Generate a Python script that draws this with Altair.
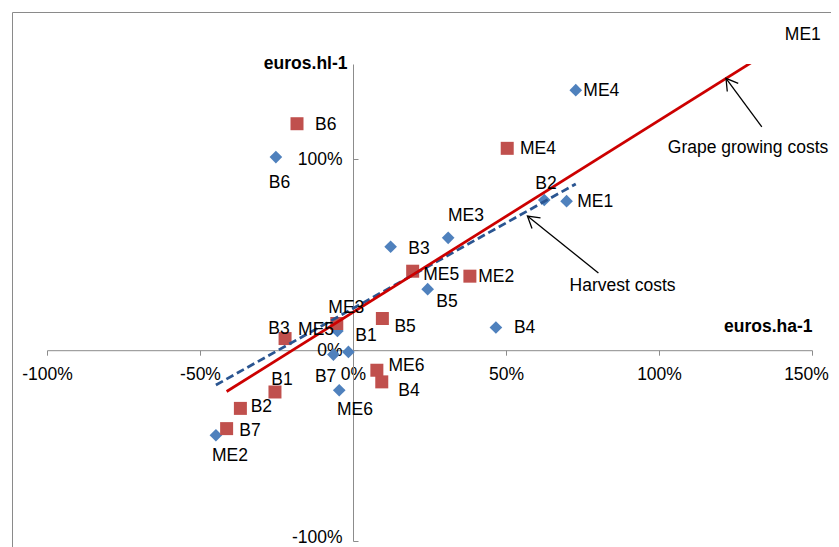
import math
import altair as alt
import pandas as pd

# ---------------- data ----------------
names = ["B1", "B2", "B3", "B4", "B5", "B6", "B7", "ME1", "ME2", "ME3", "ME4", "ME5", "ME6"]

# Harvest costs (blue diamonds): x = euros.ha-1 change, y = euros.hl-1 change
harvest_x = [-0.015, 0.625, 0.123, 0.467, 0.244, -0.252, -0.064, 0.698, -0.448, 0.311, 0.728, -0.051, -0.045]
harvest_y = [-0.009, 0.787, 0.542, 0.119, 0.320, 1.012, -0.023, 0.781, -0.446, 0.589, 1.363, 0.101, -0.210]

# Grape growing costs (red squares); ME1 lies above the plotted range (only its label shows)
grape_x = [-0.255, -0.368, -0.222, 0.094, 0.096, -0.183, -0.413, 1.372, 0.382, -0.053, 0.504, 0.195, 0.078]
grape_y = [-0.219, -0.305, 0.061, -0.166, 0.166, 1.187, -0.411, 1.608, 0.388, 0.140, 1.058, 0.414, -0.105]

x_ticks = [-1.0, -0.5, 0.0, 0.5, 1.0, 1.5]
y_ticks = [-1.0, 0.0, 1.0]

note_text = ["Grape growing costs", "Harvest costs"]
note_x = [1.291, 0.881]
note_y = [1.064, 0.343]
arrow_tail_x = [1.336, 0.802]
arrow_tail_y = [1.171, 0.405]
arrow_tip_x = [1.219, 0.570]
arrow_tip_y = [1.425, 0.703]

# ---------------- layout ----------------
W, H = 765, 477
X_DOMAIN = [-1.0, 1.5]
Y_DOMAIN = [-1.0, 1.5]
kx = W / (X_DOMAIN[1] - X_DOMAIN[0])
ky = H / (Y_DOMAIN[1] - Y_DOMAIN[0])
x0_px = (0 - X_DOMAIN[0]) * kx
y0_px = (Y_DOMAIN[1] - 0) * ky

FONT = "Liberation Sans"
FS = 17.5
BLUE = "#4F81BD"
RED = "#C0504D"
AXIS_GREY = "#8C8C8C"

# label placement: (align, dx px, dy px) relative to the marker centre
label_place = {
    ("harvest", "B6"): ("center", 3.6, 25),
    ("harvest", "ME4"): ("left", 7.6, 0),
    ("harvest", "B2"): ("center", 1.7, -17.5),
    ("harvest", "ME1"): ("left", 10.6, 0),
    ("harvest", "ME3"): ("center", 17.7, -22.7),
    ("harvest", "B3"): ("left", 17.6, 1),
    ("harvest", "B5"): ("center", 19.3, 11.5),
    ("harvest", "B4"): ("left", 18, 0),
    ("harvest", "B1"): ("center", 17.5, -16.5),
    ("harvest", "B7"): ("center", -7.8, 21),
    ("harvest", "ME6"): ("center", 15.7, 19),
    ("harvest", "ME5"): ("right", -3.3, -1.7),
    ("harvest", "ME2"): ("center", 14, 20),
    ("grape", "B6"): ("left", 18, 0),
    ("grape", "ME4"): ("left", 12.7, 0),
    ("grape", "ME5"): ("left", 10.6, 2.5),
    ("grape", "ME2"): ("left", 8.3, 0),
    ("grape", "B5"): ("left", 12, 7.7),
    ("grape", "ME3"): ("center", 9.5, -16),
    ("grape", "B3"): ("center", -6, -11),
    ("grape", "ME6"): ("left", 11.6, -5),
    ("grape", "B4"): ("left", 16.6, 8),
    ("grape", "B1"): ("center", 7, -13.4),
    ("grape", "B2"): ("left", 10.3, -2),
    ("grape", "B7"): ("left", 12.6, 1),
    ("grape", "ME1"): ("left", 12, -9.3),
}

rows = []
for s, xs_, ys_ in (("harvest", harvest_x, harvest_y), ("grape", grape_x, grape_y)):
    for n, xv, yv in zip(names, xs_, ys_):
        a, dx, dy = label_place[(s, n)]
        rows.append({"s": s, "name": n, "x": xv, "y": yv, "align": a,
                     "lx": xv + dx / kx, "ly": yv - dy / ky})
df = pd.DataFrame(rows)

notes = pd.DataFrame({
    "text": note_text, "nx": note_x, "ny": note_y,
    "tx": arrow_tail_x, "ty": arrow_tail_y, "hx": arrow_tip_x, "hy": arrow_tip_y,
})
angs = []
for tx, ty, hx, hy in zip(arrow_tail_x, arrow_tail_y, arrow_tip_x, arrow_tip_y):
    vx = (tx - hx) * kx
    vy = -(ty - hy) * ky
    angs.append((math.degrees(math.atan2(vy, vx)) - 90) % 360)
notes["ang"] = angs

xs = alt.Scale(domain=X_DOMAIN, nice=False, zero=False)
ys = alt.Scale(domain=Y_DOMAIN, nice=False, zero=False)

pct_expr = "(datum.value < 0 ? '-' : '') + format(abs(datum.value) * 100, '.0f') + '%'"

x_axis = alt.Axis(
    orient="bottom", values=x_ticks, labelExpr=pct_expr, offset=-(H - y0_px), grid=False,
    domainColor=AXIS_GREY, tickColor=AXIS_GREY, tickSize=5, labelPadding=10,
    labelFont=FONT, labelFontSize=FS, labelColor="black", labelFlush=False, labelOverlap=False,
    labelOffset={"condition": {"test": f"datum.value >= {X_DOMAIN[1]}", "value": -6}, "value": 0},
    title="euros.ha-1", titleFont=FONT, titleFontSize=FS, titleFontWeight="bold", titleColor="black",
    titleX=W, titleY=-24, titleAlign="right", titleBaseline="middle", titleAngle=0,
)
y_axis_left = alt.Axis(
    orient="left", values=y_ticks, labelExpr=pct_expr, offset=-x0_px, grid=False,
    domainColor=AXIS_GREY, ticks=False, tickSize=0, labelPadding=11,
    labelFont=FONT, labelFontSize=FS, labelColor="black", labelFlush=False, labelOverlap=False,
    labelOffset={"condition": {"test": f"datum.value <= {Y_DOMAIN[0]}", "value": -4}, "value": 0},
    title="euros.hl-1", titleFont=FONT, titleFontSize=FS, titleFontWeight="bold", titleColor="black",
    titleX=-6, titleY=-1, titleAlign="right", titleBaseline="middle", titleAngle=0,
)
y_axis_right = alt.Axis(
    orient="right", values=y_ticks, offset=-(W - x0_px), grid=False, domain=False,
    labels=False, ticks=True, tickSize=5, tickColor=AXIS_GREY, title=None,
)


def X(f, ax=None):
    return alt.X(f, scale=xs, axis=ax)


def Y(f, ax=None):
    return alt.Y(f, scale=ys, axis=ax)


blue_pts = alt.Chart(df).transform_filter("datum.s == 'harvest'").mark_point(
    shape="diamond", filled=True, size=160, color=BLUE, opacity=1, clip=True
).encode(x=X("x:Q", x_axis), y=Y("y:Q", y_axis_left))

red_pts = alt.Chart(df).transform_filter("datum.s == 'grape'").mark_point(
    shape="square", filled=True, size=169, color=RED, opacity=1, clip=True
).encode(x=X("x:Q"), y=Y("y:Q"))

blue_fit = alt.Chart(df).transform_filter("datum.s == 'harvest'").transform_regression(
    "x", "y", method="linear"
).mark_line(color="#2A5591", strokeWidth=2.75, strokeDash=[8, 4], clip=True).encode(
    x=X("x:Q"), y=Y("y:Q", y_axis_right)
)

red_fit = alt.Chart(df).transform_filter("datum.s == 'grape'").transform_regression(
    "x", "y", method="linear"
).mark_line(color="#CC0000", strokeWidth=2.75, clip=True).encode(x=X("x:Q"), y=Y("y:Q"))

label_layers = []
for a in ("left", "center", "right"):
    label_layers.append(
        alt.Chart(df).transform_filter(f"datum.align == '{a}'").mark_text(
            align=a, baseline="middle", dy=1, font=FONT, fontSize=FS, color="black"
        ).encode(x=X("lx:Q"), y=Y("ly:Q"), text="name:N")
    )

arrow_lines = alt.Chart(notes).mark_rule(color="black", strokeWidth=1.3).encode(
    x=X("tx:Q"), y=Y("ty:Q"), x2="hx:Q", y2="hy:Q"
)
arrow_heads = alt.Chart(notes).mark_point(
    shape="M-0.515,0.857L0,0L0.515,0.857", filled=False, stroke="black",
    strokeWidth=1.3, size=700, opacity=1
).encode(x=X("hx:Q"), y=Y("hy:Q"), angle=alt.Angle("ang:Q", scale=None))
note_labels = alt.Chart(notes).mark_text(
    align="center", baseline="middle", dy=1, font=FONT, fontSize=FS, color="black"
).encode(x=X("nx:Q"), y=Y("ny:Q"), text="text:N")

# outer chart frame (Excel chart-area border), partly beyond the page edge
frame = alt.Chart(pd.DataFrame({"k": [0]})).mark_rect(
    fill="white", fillOpacity=0, stroke="#8A8A8A", strokeWidth=1
).encode(x=alt.value(-34.5), x2=alt.value(820), y=alt.value(-51.5), y2=alt.value(620))

chart = alt.layer(
    blue_pts, red_pts, blue_fit, red_fit, *label_layers,
    arrow_lines, arrow_heads, note_labels, frame
).resolve_axis(x="independent", y="independent").properties(
    width=W, height=H,
    padding={"left": 39, "top": 56, "right": 19, "bottom": 6},
    autosize=alt.AutoSizeParams(type="none"),
    background="white",
).configure_view(stroke=None)

chart.save("out.html", embed_options={"renderer": "svg", "actions": False})
